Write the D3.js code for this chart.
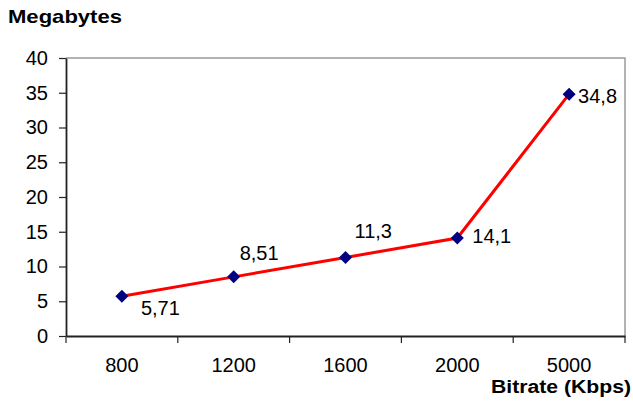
<!DOCTYPE html>
<html>
<head>
<meta charset="utf-8">
<script src="https://cdn.jsdelivr.net/npm/d3@7"></script>
<style>
  html, body { margin: 0; padding: 0; background: #fff; }
  svg { display: block; font-family: "Liberation Sans", Arial, sans-serif; }
</style>
</head>
<body>
<svg id="chart" width="633" height="403"></svg>
<script>
// Output file size per encoding bitrate
const bitrates = ["800", "1200", "1600", "2000", "5000"];
const megabytes = [5.71, 8.51, 11.3, 14.1, 34.8];
const valueLabels = ["5,71", "8,51", "11,3", "14,1", "34,8"];
const yTicks = [0, 5, 10, 15, 20, 25, 30, 35, 40];
// label offsets (dx, dy) from each point
const labelOffsets = [[19, 19], [6, -17], [9, -19], [15, 5], [9, 9]];

const svg = d3.select("#chart");
const plotLeft = 66, plotRight = 625, plotTop = 58, plotBottom = 336;
const numFont = 20;

const x = d3.scaleBand().domain(bitrates).range([plotLeft, plotRight]).padding(0);
const y = d3.scaleLinear().domain([0, 40]).range([plotBottom, plotTop]);

// plot frame: light top/right edges
svg.append("path")
  .attr("d", `M${plotLeft},${plotTop}H${plotRight}V${plotBottom}`)
  .attr("fill", "none")
  .attr("stroke", "#9a9a9a")
  .attr("stroke-width", 1.5);

// y axis
const yAxis = svg.append("g")
  .attr("transform", `translate(${plotLeft},0)`)
  .call(d3.axisLeft(y).tickValues(yTicks).tickSize(7).tickPadding(11).tickSizeOuter(0));
yAxis.select(".domain").attr("stroke", "#222").attr("stroke-width", 1.8);
yAxis.selectAll(".tick line").attr("stroke", "#222").attr("stroke-width", 1.2);
yAxis.selectAll("text").attr("font-size", numFont).attr("fill", "#000");

// x axis labels at band centres
const xAxis = svg.append("g")
  .attr("transform", `translate(0,${plotBottom})`)
  .call(d3.axisBottom(x).tickSize(0).tickPadding(22).tickSizeOuter(0));
xAxis.select(".domain").attr("stroke", "#222").attr("stroke-width", 1.8);
xAxis.selectAll("text").attr("font-size", numFont).attr("fill", "#000");

// x tick marks at category boundaries
const bounds = bitrates.map(d => x(d)).concat([x(bitrates[bitrates.length - 1]) + x.bandwidth()]);
svg.append("g").selectAll("line")
  .data(bounds)
  .join("line")
  .attr("x1", d => d).attr("x2", d => d)
  .attr("y1", plotBottom).attr("y2", plotBottom + 7)
  .attr("stroke", "#222").attr("stroke-width", 1.2);

const cx = d => x(d) + x.bandwidth() / 2;

// series line
const pts = bitrates.map((b, i) => [cx(b), y(megabytes[i])]);
svg.append("path")
  .datum(pts)
  .attr("d", d3.line())
  .attr("fill", "none")
  .attr("stroke", "#ff0000")
  .attr("stroke-width", 3);

// diamond markers
svg.append("g").selectAll("path")
  .data(pts)
  .join("path")
  .attr("transform", d => `translate(${d[0]},${d[1]})`)
  .attr("d", "M0,-6.5L6.5,0L0,6.5L-6.5,0Z")
  .attr("fill", "#000080");

// value labels
svg.append("g").selectAll("text")
  .data(pts)
  .join("text")
  .attr("x", (d, i) => d[0] + labelOffsets[i][0])
  .attr("y", (d, i) => d[1] + labelOffsets[i][1])
  .attr("font-size", numFont)
  .attr("fill", "#000")
  .text((d, i) => valueLabels[i]);

// axis titles
svg.append("text")
  .attr("x", 8).attr("y", 23)
  .attr("font-size", 19).attr("font-weight", "bold")
  .attr("textLength", 114).attr("lengthAdjust", "spacingAndGlyphs")
  .text("Megabytes");

svg.append("text")
  .attr("x", 491).attr("y", 393)
  .attr("font-size", 18).attr("font-weight", "bold")
  .attr("textLength", 140).attr("lengthAdjust", "spacingAndGlyphs")
  .text("Bitrate (Kbps)");
</script>
</body>
</html>
